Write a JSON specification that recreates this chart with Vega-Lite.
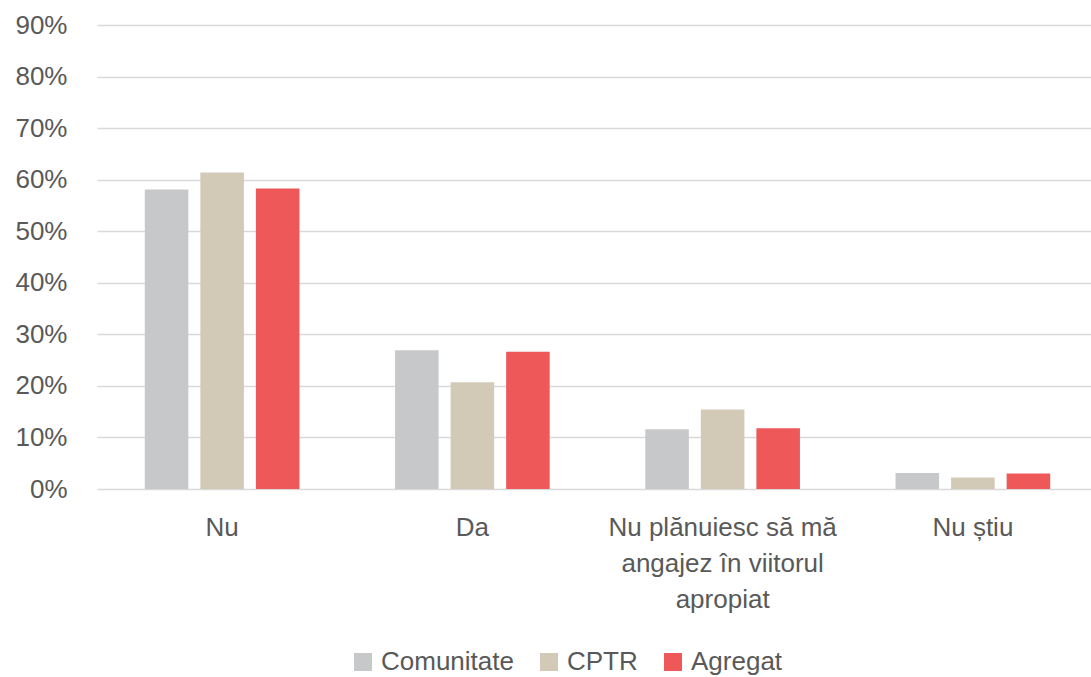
{
  "$schema": "https://vega.github.io/schema/vega-lite/v6.json",
  "width": 1001,
  "height": 464,
  "autosize": {"type": "none"},
  "padding": {"left": 97, "top": 25, "right": 0, "bottom": 188},
  "background": "white",
  "config": {
    "view": {"stroke": null},
    "font": "Liberation Sans, Arial",
    "axis": {"labelFont": "Liberation Sans, Arial", "labelColor": "#595959", "labelFontSize": 26},
    "legend": {"labelFont": "Liberation Sans, Arial"}
  },
  "data": {
    "values": [
      {"category": "Nu", "series": "Comunitate", "value": 0.581},
      {"category": "Nu", "series": "CPTR", "value": 0.614},
      {"category": "Nu", "series": "Agregat", "value": 0.583},
      {"category": "Da", "series": "Comunitate", "value": 0.269},
      {"category": "Da", "series": "CPTR", "value": 0.207},
      {"category": "Da", "series": "Agregat", "value": 0.266},
      {"category": "Nu plănuiesc să mă angajez în viitorul apropiat", "series": "Comunitate", "value": 0.116},
      {"category": "Nu plănuiesc să mă angajez în viitorul apropiat", "series": "CPTR", "value": 0.154},
      {"category": "Nu plănuiesc să mă angajez în viitorul apropiat", "series": "Agregat", "value": 0.118},
      {"category": "Nu știu", "series": "Comunitate", "value": 0.031},
      {"category": "Nu știu", "series": "CPTR", "value": 0.0225},
      {"category": "Nu știu", "series": "Agregat", "value": 0.030}
    ]
  },
  "mark": {"type": "bar"},
  "encoding": {
    "x": {
      "field": "category",
      "type": "nominal",
      "sort": ["Nu", "Da", "Nu plănuiesc să mă angajez în viitorul apropiat", "Nu știu"],
      "scale": {"paddingInner": 0.382, "paddingOuter": 0.191},
      "axis": {
        "title": null,
        "labelAngle": 0,
        "domain": false,
        "ticks": false,
        "labelPadding": 25,
        "labelLimit": 400,
        "labelLineHeight": 36,
        "labelExpr": "datum.value == 'Nu plănuiesc să mă angajez în viitorul apropiat' ? ['Nu plănuiesc să mă', 'angajez în viitorul', 'apropiat'] : datum.label"
      }
    },
    "xOffset": {
      "field": "series",
      "type": "nominal",
      "sort": ["Comunitate", "CPTR", "Agregat"],
      "scale": {"paddingInner": 0.216, "paddingOuter": 0}
    },
    "y": {
      "field": "value",
      "type": "quantitative",
      "scale": {"domain": [0, 0.9]},
      "axis": {
        "title": null,
        "format": ".0%",
        "values": [0, 0.1, 0.2, 0.3, 0.4, 0.5, 0.6, 0.7, 0.8, 0.9],
        "domain": false,
        "ticks": false,
        "labelPadding": 30,
        "grid": true,
        "gridColor": "#d9d9d9",
        "gridWidth": 1.5
      }
    },
    "color": {
      "field": "series",
      "type": "nominal",
      "scale": {"domain": ["Comunitate", "CPTR", "Agregat"], "range": ["#c7c8ca", "#d2cab7", "#ee5859"]},
      "legend": {
        "title": null,
        "orient": "none",
        "legendX": 253,
        "legendY": 624,
        "direction": "horizontal",
        "symbolType": "square",
        "symbolSize": 324,
        "symbolStrokeWidth": 0,
        "labelFontSize": 26,
        "labelColor": "#595959",
        "labelOffset": 5,
        "columnPadding": 22,
        "labelLimit": 300
      }
    }
  }
}
